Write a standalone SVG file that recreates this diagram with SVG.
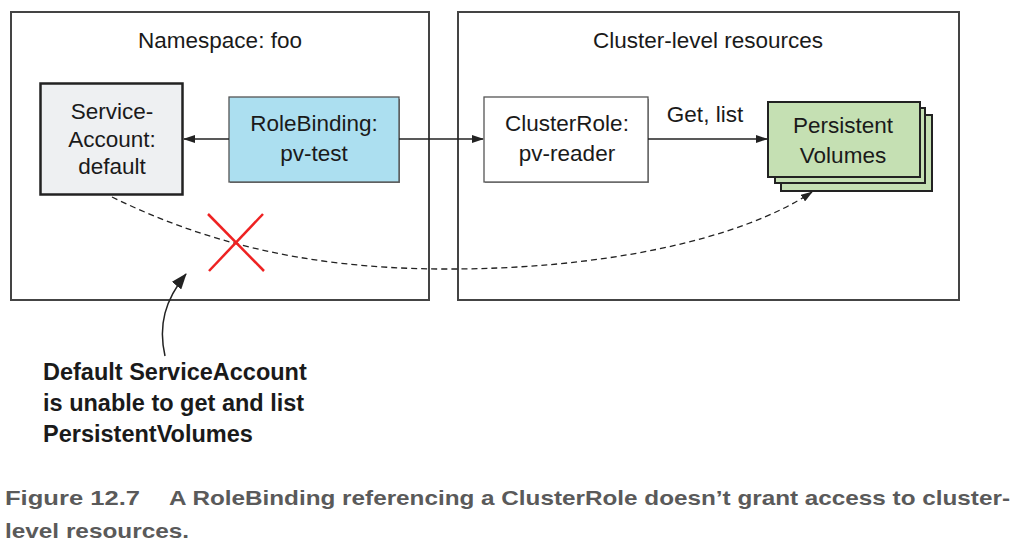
<svg xmlns="http://www.w3.org/2000/svg" width="1024" height="554" viewBox="0 0 1024 554">
<defs>
<marker id="ah" markerWidth="12" markerHeight="8" refX="11" refY="4" orient="auto" markerUnits="userSpaceOnUse">
<path d="M0,0 L12,4 L0,8 Z" fill="#222"/>
</marker>
<marker id="ahc" markerWidth="16" markerHeight="12" refX="15" refY="6" orient="auto" markerUnits="userSpaceOnUse">
<path d="M0,0 L16,6 L0,12 Z" fill="#222"/>
</marker>
<style>
.lbl{font-family:"Liberation Sans",Arial,sans-serif;font-size:22.5px;fill:#1a1a1a;text-anchor:middle}
.frame{fill:#fff;stroke:#444;stroke-width:2}
.conn{fill:none;stroke:#222;stroke-width:1.3}
.note{font-family:"Liberation Sans",Arial,sans-serif;font-weight:bold;font-size:23.5px;fill:#1a1a1a}
.cap{font-family:"Liberation Sans",Arial,sans-serif;font-weight:bold;font-size:21px;fill:#5a5a5a}
</style>
</defs>
<rect width="1024" height="554" fill="#fff"/>

<g id="namespace">
<rect class="frame" x="11" y="12" width="418" height="288"/>
<text class="lbl" x="220" y="48">Namespace: foo</text>
</g>
<g id="cluster">
<rect class="frame" x="458" y="12" width="501" height="288"/>
<text class="lbl" x="708" y="48">Cluster-level resources</text>
</g>

<g id="serviceaccount">
<rect x="40.5" y="83.5" width="142" height="111" fill="#eef0f2" stroke="#222" stroke-width="2.5"/>
<text class="lbl" x="112" y="119">Service-</text>
<text class="lbl" x="112" y="147">Account:</text>
<text class="lbl" x="112" y="174">default</text>
</g>

<g id="rolebinding">
<rect x="230" y="99" width="170" height="84" fill="#777"/>
<rect x="229" y="97" width="170" height="85" fill="#acdff0" stroke="#555" stroke-width="1.3"/>
<text class="lbl" x="314" y="131">RoleBinding:</text>
<text class="lbl" x="314" y="161">pv-test</text>
</g>

<g id="clusterrole">
<rect x="485" y="99" width="164" height="84" fill="#999"/>
<rect x="484" y="97" width="164" height="85" fill="#fff" stroke="#555" stroke-width="1.3"/>
<text class="lbl" x="567" y="131">ClusterRole:</text>
<text class="lbl" x="567" y="161">pv-reader</text>
</g>

<g id="persistentvolumes">
<rect x="781" y="115" width="151" height="76" fill="#c5e0b3" stroke="#222" stroke-width="2"/>
<rect x="775" y="108" width="150" height="75" fill="#c5e0b3" stroke="#222" stroke-width="2"/>
<rect x="768" y="102" width="152" height="75" fill="#c5e0b3" stroke="#222" stroke-width="2"/>
<text class="lbl" x="843" y="133">Persistent</text>
<text class="lbl" x="843" y="163">Volumes</text>
</g>

<g id="connectors">
<line class="conn" x1="229" y1="139" x2="184" y2="139" marker-end="url(#ah)"/>
<line class="conn" x1="399" y1="139" x2="483" y2="139" marker-end="url(#ah)"/>
<line class="conn" x1="648" y1="139" x2="767" y2="139" marker-end="url(#ah)"/>
<text class="lbl" x="705" y="122">Get, list</text>
<path class="conn" d="M112,197 C 200,240 300,268 440,269 C 600,270 740,240 812,192" stroke-dasharray="6,4" marker-end="url(#ah)"/>
<path d="M165,356 C 158,325 165,300 186,274" fill="none" stroke="#222" stroke-width="1.5" marker-end="url(#ahc)"/>
</g>

<g id="cross" stroke="#ee2222" stroke-width="2.5">
<line x1="208" y1="214" x2="264" y2="271"/>
<line x1="263" y1="214" x2="209" y2="271"/>
</g>

<g id="note">
<text class="note" x="43" y="380">Default ServiceAccount</text>
<text class="note" x="43" y="411">is unable to get and list</text>
<text class="note" x="43" y="442">PersistentVolumes</text>
</g>

<g id="caption">
<text class="cap" x="5" y="505" textLength="135" lengthAdjust="spacingAndGlyphs">Figure 12.7</text>
<text class="cap" x="169" y="505" textLength="841" lengthAdjust="spacingAndGlyphs">A RoleBinding referencing a ClusterRole doesn’t grant access to cluster-</text>
<text class="cap" x="5" y="538" textLength="184" lengthAdjust="spacingAndGlyphs">level resources.</text>
</g>
</svg>
